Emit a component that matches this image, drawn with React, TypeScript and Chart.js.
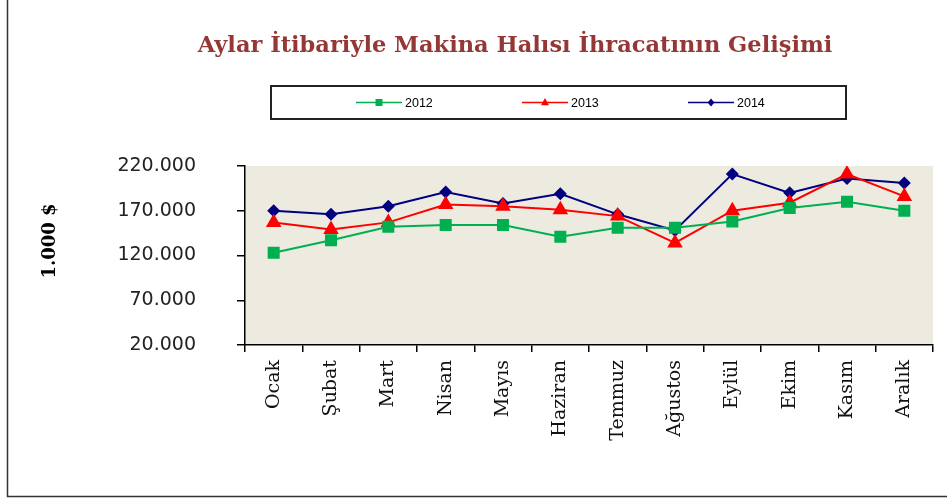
import React, { useEffect, useRef } from 'react';
import { Chart, registerables } from 'chart.js';

Chart.register(...registerables);

const months = ['Ocak', 'Şubat', 'Mart', 'Nisan', 'Mayıs', 'Haziran', 'Temmuz', 'Ağustos', 'Eylül', 'Ekim', 'Kasım', 'Aralık'];
const values2012 = [123000, 137000, 152000, 154000, 154000, 141000, 151000, 151000, 158000, 173000, 180000, 170000];
const values2013 = [157000, 149000, 157000, 177000, 175000, 171000, 164000, 134000, 170000, 179000, 211000, 186000];
const values2014 = [170000, 166000, 175000, 191000, 178000, 189000, 166000, 148000, 211000, 190000, 206000, 201000];
const seriesLabels = ['2012', '2013', '2014'];
const yTickValues = [20000, 70000, 120000, 170000, 220000];
const titleText = 'Aylar İtibariyle Makina Halısı İhracatının Gelişimi';
const yAxisTitle = '1.000 $';

const fmt = (v: number) => Math.round(v).toString().replace(/\B(?=(\d{3})+(?!\d))/g, '.');

function drawMarker(ctx: CanvasRenderingContext2D, style: string, x: number, y: number, r: number, color: string) {
  ctx.save();
  ctx.fillStyle = color;
  ctx.beginPath();
  if (style === 'rect') {
    ctx.rect(x - r, y - r, 2 * r, 2 * r);
  } else if (style === 'triangle') {
    ctx.moveTo(x, y - r * 1.1);
    ctx.lineTo(x + r, y + r * 0.7);
    ctx.lineTo(x - r, y + r * 0.7);
    ctx.closePath();
  } else {
    ctx.moveTo(x, y - r);
    ctx.lineTo(x + r * 0.85, y);
    ctx.lineTo(x, y + r);
    ctx.lineTo(x - r * 0.85, y);
    ctx.closePath();
  }
  ctx.fill();
  ctx.restore();
}

const decorPlugin = {
  id: 'decor',
  beforeDraw(chart: any) {
    const { ctx, chartArea } = chart;
    ctx.save();
    ctx.fillStyle = '#EDEAE0';
    ctx.fillRect(chartArea.left, chartArea.top, chartArea.right - chartArea.left, chartArea.bottom - chartArea.top);
    ctx.restore();
  },
  afterDraw(chart: any) {
    const { ctx } = chart;
    ctx.save();
    // outer frame (partially visible)
    ctx.strokeStyle = '#333';
    ctx.lineWidth = 1.5;
    ctx.beginPath();
    ctx.moveTo(7.5, 0);
    ctx.lineTo(7.5, 496.5);
    ctx.lineTo(947, 496.5);
    ctx.stroke();

    // title
    ctx.fillStyle = '#953735';
    ctx.font = 'bold 22.5px "DejaVu Serif"';
    ctx.textAlign = 'center';
    ctx.textBaseline = 'alphabetic';
    ctx.fillText(titleText, 515, 52);

    // y axis title
    ctx.save();
    ctx.translate(50, 241);
    ctx.rotate(-Math.PI / 2);
    ctx.fillStyle = '#000';
    ctx.font = 'bold 18px "DejaVu Serif"';
    ctx.textAlign = 'center';
    ctx.textBaseline = 'middle';
    ctx.fillText(yAxisTitle, 0, 0);
    ctx.restore();

    // legend box
    ctx.strokeStyle = '#222';
    ctx.lineWidth = 2;
    ctx.strokeRect(271, 86, 575, 33);
    const styles = ['rect', 'triangle', 'diamond'];
    const sizes = [3.5, 4, 4];
    const ly = 102.5;
    ctx.font = '12.5px "Liberation Sans"';
    ctx.textAlign = 'left';
    ctx.textBaseline = 'middle';
    chart.data.datasets.forEach((ds: any, i: number) => {
      const x0 = 356 + i * 166;
      ctx.strokeStyle = ds.borderColor;
      ctx.lineWidth = 1.5;
      ctx.beginPath();
      ctx.moveTo(x0, ly);
      ctx.lineTo(x0 + 46, ly);
      ctx.stroke();
      drawMarker(ctx, styles[i], x0 + 23, ly, sizes[i], ds.borderColor);
      ctx.fillStyle = '#000';
      ctx.fillText(ds.label, x0 + 49, ly + 1);
    });
    ctx.restore();
  },
};

export default function App() {
  const ref = useRef<HTMLCanvasElement | null>(null);
  useEffect(() => {
    if (!ref.current) return;
    const chart = new Chart(ref.current, {
      type: 'line',
      data: {
        labels: months,
        datasets: [
          {
            label: seriesLabels[0],
            data: values2012,
            borderColor: '#00B050',
            backgroundColor: '#00B050',
            pointBackgroundColor: '#00B050',
            pointBorderColor: '#00B050',
            pointStyle: 'rect',
            pointRadius: 8.5,
            pointBorderWidth: 0,
            borderWidth: 2,
            tension: 0,
          },
          {
            label: seriesLabels[1],
            data: values2013,
            borderColor: '#FF0000',
            backgroundColor: '#FF0000',
            pointBackgroundColor: '#FF0000',
            pointBorderColor: '#FF0000',
            pointStyle: 'triangle',
            pointRadius: 9,
            pointBorderWidth: 0,
            borderWidth: 2,
            tension: 0,
          },
          {
            label: seriesLabels[2],
            data: values2014,
            borderColor: '#000080',
            backgroundColor: '#000080',
            pointBackgroundColor: '#000080',
            pointBorderColor: '#000080',
            pointStyle: 'rectRot',
            pointRadius: 6.5,
            pointBorderWidth: 0,
            borderWidth: 2,
            tension: 0,
          },
        ],
      },
      options: {
        responsive: false,
        animation: false,
        devicePixelRatio: 1,
        layout: { padding: { left: 0, top: 166, right: 14, bottom: 37 } },
        plugins: {
          legend: { display: false },
          title: { display: false },
          tooltip: { enabled: false },
        },
        scales: {
          x: {
            type: 'category',
            offset: true,
            grid: { offset: true, drawOnChartArea: false, drawTicks: true, tickLength: 7, color: '#000', lineWidth: 1.5 },
            border: { display: true, color: '#000', width: 1.5 },
            ticks: {
              autoSkip: false,
              minRotation: 90,
              maxRotation: 90,
              padding: 8,
              color: '#111',
              font: { family: 'DejaVu Serif', size: 19 },
            },
            afterFit: (s: any) => { s.height = 120; },
          },
          y: {
            min: 20000,
            max: 220000,
            grid: { drawOnChartArea: false, drawTicks: true, tickLength: 8, color: '#000', lineWidth: 1.5 },
            border: { display: true, color: '#000', width: 1.5 },
            afterBuildTicks: (s: any) => { s.ticks = yTickValues.map((v) => ({ value: v })); },
            ticks: {
              padding: 41,
              color: '#222',
              font: { family: 'DejaVu Sans', size: 19 },
              callback: (v: any) => fmt(Number(v)),
            },
            afterFit: (s: any) => { s.width = 245; },
          },
        },
      },
      plugins: [decorPlugin],
    });
    return () => chart.destroy();
  }, []);
  return (
    <div style={{ position: 'fixed', left: 0, top: 0, width: 947, height: 502, background: '#fff' }}>
      <canvas ref={ref} width={947} height={502} style={{ width: 947, height: 502, display: 'block' }} />
    </div>
  );
}
